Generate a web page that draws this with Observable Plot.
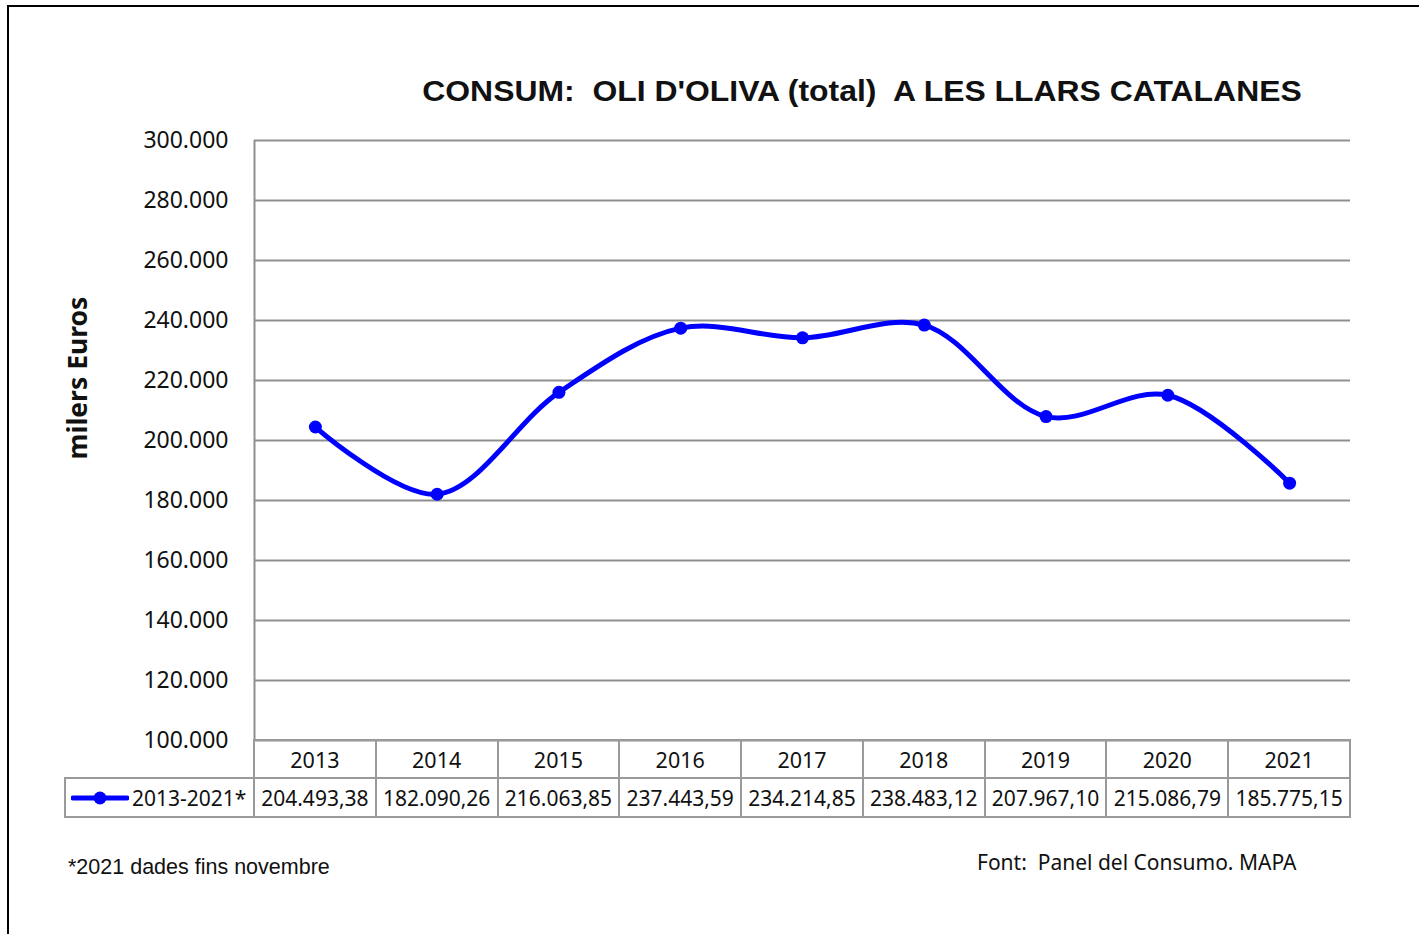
<!DOCTYPE html>
<html>
<head>
<meta charset="utf-8">
<script src="https://cdn.jsdelivr.net/npm/d3@7"></script>
<script src="https://cdn.jsdelivr.net/npm/@observablehq/plot@0.6"></script>
<style>
  body { margin: 0; background: #fff; }
  #page { position: relative; width: 1419px; height: 934px; overflow: hidden; background: #fff; }
  #frame { position: absolute; left: 7px; top: 5px; width: 1500px; height: 1000px; border: 2px solid #000; box-sizing: border-box; }
  #chart { position: absolute; left: 0; top: 0; }
  .txt { position: absolute; white-space: pre; line-height: 1; color: #111; }
  #title { left: 362px; width: 1000px; text-align: center; top: 75px; font: bold 29px "Liberation Sans", Arial, sans-serif; transform: scaleX(1.1); transform-origin: 500px 50%; }
  #ylabel { left: 77px; top: 378px; transform: translate(-50%, -50%) rotate(-90deg); font: bold 26.5px "Noto Sans", sans-serif; }
  #note { left: 68px; top: 855px; font: 21.5px "Liberation Sans", Arial, sans-serif; }
  #source { left: 977px; top: 848px; font: 21px "Noto Sans", sans-serif; }
  .cell { position: absolute; box-sizing: border-box; border: 2px solid #9a9a9a; display: flex; align-items: center; justify-content: center; font: 21px "Noto Sans", sans-serif; color: #111; white-space: nowrap; }
  .cell.yr { font-size: 21.5px; }
</style>
</head>
<body>
<div id="page">
  <div id="frame"></div>
  <div id="chart"></div>
  <div class="txt" id="title"></div>
  <div class="txt" id="ylabel"></div>
  <div class="txt" id="note"></div>
  <div class="txt" id="source"></div>
</div>
<script>
// ---- data ----
const title = "CONSUM:  OLI D'OLIVA (total)  A LES LLARS CATALANES";
const yLabel = "milers Euros";
const seriesName = "2013-2021*";
const years = ["2013", "2014", "2015", "2016", "2017", "2018", "2019", "2020", "2021"];
const values = [204493.38, 182090.26, 216063.85, 237443.59, 234214.85, 238483.12, 207967.10, 215086.79, 185775.15];
const yTicks = [100000, 120000, 140000, 160000, 180000, 200000, 220000, 240000, 260000, 280000, 300000];
const note = "*2021 dades fins novembre";
const source = "Font:  Panel del Consumo. MAPA";

const data = years.map((year, i) => ({year, value: values[i]}));
const caLocale = d3.formatLocale({decimal: ",", thousands: ".", grouping: [3], currency: ["", "€"]});
const fmtTick = caLocale.format(",");
const fmtVal = caLocale.format(",.2f");

const W = 1419, H = 760, mL = 254, mR = 69, mT = 140, mB = 20;
const bandStep = (W - mL - mR) / years.length;
const blue = "#0000ff";
const gridColor = "#8f8f8f";

const plot = Plot.plot({
  width: W, height: H,
  marginTop: mT, marginBottom: mB, marginLeft: mL, marginRight: mR,
  style: {fontFamily: "'Noto Sans', sans-serif", fontSize: "23px", color: "#111", background: "transparent", overflow: "visible"},
  x: {type: "point", domain: years, padding: 0.5, round: false, axis: null},
  y: {domain: [100000, 300000], ticks: yTicks, tickFormat: fmtTick, tickSize: 0, tickPadding: 26, label: null},
  marks: [
    Plot.ruleY(yTicks, {stroke: gridColor, strokeWidth: 2}),
    Plot.ruleX([years[0]], {dx: -bandStep / 2, stroke: gridColor, strokeWidth: 2}),
    Plot.line(data, {x: "year", y: "value", stroke: blue, strokeWidth: 5, curve: "catmull-rom"}),
    Plot.dot(data, {x: "year", y: "value", r: 6.5, fill: blue, stroke: "none"})
  ]
});
document.getElementById("chart").appendChild(plot);

document.getElementById("title").textContent = title;
document.getElementById("ylabel").textContent = yLabel;
document.getElementById("note").textContent = note;
document.getElementById("source").textContent = source;

// ---- data table aligned with the x scale ----
const xs = plot.scale("x");
const ys = plot.scale("y");
const step = xs.apply(years[1]) - xs.apply(years[0]);
const rowTop = ys.apply(100000);
const page = document.getElementById("page");
function cell(left, top, width, height, html, cls) {
  const d = document.createElement("div");
  d.className = "cell" + (cls ? " " + cls : "");
  Object.assign(d.style, {left: left + "px", top: top + "px", width: width + "px", height: height + "px"});
  d.innerHTML = html;
  page.appendChild(d);
  return d;
}
const r1Top = rowTop - 1, r1H = 40, r2Top = r1Top + r1H - 2, r2H = 41;
years.forEach((yr, i) => {
  const left = xs.apply(yr) - step / 2 - 1;
  cell(left, r1Top, step + 2, r1H, yr, "yr");
  cell(left, r2Top, step + 2, r2H, fmtVal(values[i]));
});
const firstLeft = xs.apply(years[0]) - step / 2 - 1;
const legendLeft = 64;
const lc = cell(legendLeft, r2Top, firstLeft - legendLeft + 2, r2H,
  `<svg width="58" height="16" style="margin-right:3px"><line x1="2" x2="56" y1="8" y2="8" stroke="${blue}" stroke-width="5" stroke-linecap="round"/><circle cx="29" cy="8" r="6.5" fill="${blue}"/></svg>` + seriesName);
lc.style.justifyContent = "flex-start";
lc.style.paddingLeft = "5px";
</script>
</body>
</html>
